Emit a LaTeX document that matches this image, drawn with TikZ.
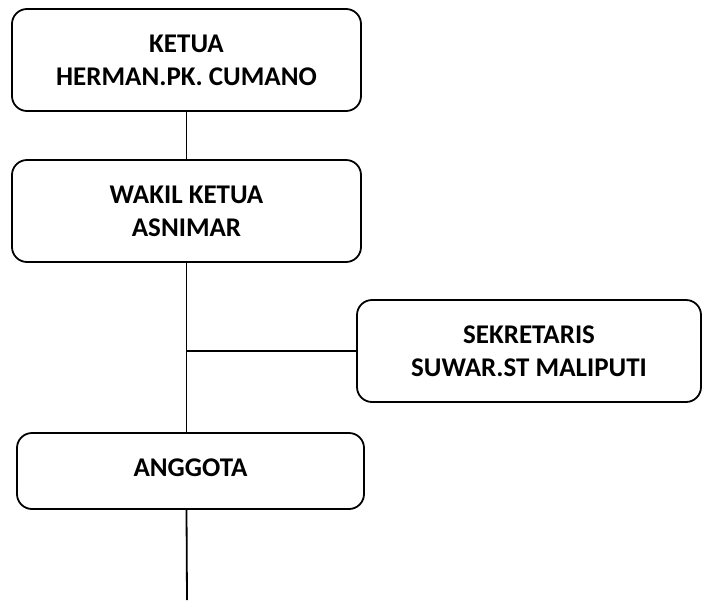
\documentclass[tikz,border=0pt]{standalone}
\usepackage{fontspec}
\setmainfont{Carlito}
\begin{document}
\begin{tikzpicture}[x=1pt,y=-1pt,
  box/.style={draw=black, line width=1.8pt, rounded corners=15pt, align=center,
    inner sep=0pt, font=\fontsize{27}{33}\selectfont\bfseries},
  conn/.style={draw=black, line width=1.8pt}]
\useasboundingbox (0,0) rectangle (703,600);
\node[box, minimum width=349pt, minimum height=102pt] (ketua) at (186.5,60) {KETUA\\HERMAN.PK. CUMANO};
\node[box, minimum width=349pt, minimum height=102pt] (wakil) at (186.5,211) {WAKIL KETUA\\ASNIMAR};
\node[box, minimum width=344pt, minimum height=102pt] (sek) at (529,351) {SEKRETARIS\\SUWAR.ST MALIPUTI};
\node[box, minimum width=347pt, minimum height=76pt] (anggota) at (190.5,471) {\raisebox{6pt}{ANGGOTA}};
\coordinate (bottom) at (187,600);
\draw[conn] (ketua.south) -- (wakil.north);
\draw[conn] (wakil.south) -- (wakil.south |- anggota.north);
\draw[conn] (wakil.south |- sek.west) -- (sek.west);
\draw[conn] (wakil.south |- anggota.south) -- (bottom);
\end{tikzpicture}
\end{document}
